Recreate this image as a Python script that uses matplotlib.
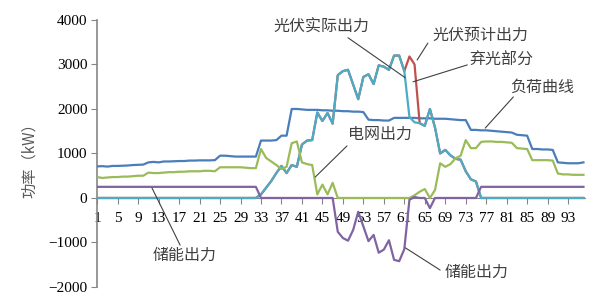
import matplotlib
matplotlib.use("Agg")
import matplotlib.pyplot as plt
import numpy as np

# 时段 1..96（15 min 一个点）
periods = np.arange(1, 97)

# 负荷曲线
load = [710, 715, 705, 720, 720, 725, 730, 740, 745, 750,
        800, 810, 800, 820, 820, 825, 830, 830, 840, 840,
        845, 845, 845, 850, 950, 950, 940, 930, 930, 930,
        930, 930, 1290, 1290, 1290, 1300, 1400, 1400, 2000, 2000,
        1990, 1980, 1980, 1980, 1970, 1970, 1960, 1960, 1950, 1950,
        1940, 1940, 1930, 1760, 1750, 1750, 1740, 1740, 1800, 1800,
        1800, 1800, 1800, 1790, 1790, 1790, 1780, 1780, 1780, 1770,
        1760, 1750, 1750, 1530, 1530, 1520, 1520, 1510, 1500, 1490,
        1480, 1470, 1420, 1410, 1400, 1100, 1100, 1090, 1090, 1080,
        800, 790, 780, 780, 780, 800]

# 光伏实际出力
pv_actual = [0] * 32 + [
    80, 230, 380, 560, 720, 560, 740, 700, 1200, 1290,
    1300, 1920, 1730, 1910, 1670, 2760, 2850, 2880, 2550, 2220,
    2720, 2780, 2560, 2980, 2950, 2880, 3200, 3200, 2850, 1820,
    1700, 1680, 1620, 2000, 1580, 1000, 1080, 960, 880, 860,
    600, 420, 370] + [0] * 21

# 光伏预计出力（仅 62~63 与实际不同）
pv_forecast = list(pv_actual)
pv_forecast[61] = 3180
pv_forecast[62] = 3000

# 电网出力
grid = [470, 450, 460, 470, 470, 480, 480, 490, 500, 500,
        570, 560, 560, 570, 580, 580, 590, 590, 600, 600,
        600, 610, 610, 600, 690, 690, 690, 690, 690, 680,
        670, 670, 1100, 900, 820, 740, 650, 700, 1230, 1270,
        800, 760, 740, 80, 300, 80, 340, 0, 0, 0,
        0, 0, 0, 0, 0, 0, 0, 0, 0, 0,
        0, 0, 60, 140, 200, 0, 180, 780, 700, 760,
        890, 950, 1300, 1120, 1120, 1260, 1270, 1270, 1260, 1260,
        1250, 1240, 1120, 1110, 1100, 850, 850, 850, 850, 840,
        550, 530, 530, 520, 520, 520]

# 储能出力
storage = [250] * 32 + [0] * 15 + [
    -760, -900, -960, -720, -310, -640, -970, -830, -1230, -1160,
    -950, -1390, -1420, -1150, -40, 20, 0, 0, -230, 0,
    0, 0, 0, 0, 0, 0, 0, 0] + [250] * 21

yticks = [-2000, -1000, 0, 1000, 2000, 3000, 4000]
xticks = list(range(1, 97, 4))

cjk = ['Noto Sans CJK SC', 'DejaVu Sans']
txt_color = '#404040'

fig = plt.figure(figsize=(6.0, 2.98), dpi=100)
ax = fig.add_axes([0.162, 0.037, 0.813, 0.896])

ax.plot(periods, load, color='#4A7EBB', lw=1.6, zorder=3)
ax.plot(periods, pv_forecast, color='#C0504D', lw=1.6, zorder=3)
ax.plot(periods, pv_actual, color='#4BACC6', lw=1.6, zorder=4)
ax.plot(periods, grid, color='#9BBB59', lw=1.6, zorder=4)
ax.plot(periods, storage, color='#8064A2', lw=1.6, zorder=5)

ax.set_xlim(1, 96.3)
ax.set_ylim(-2000, 4000)
ax.set_yticks(yticks)
ax.set_xticks(xticks)
ax.set_xticklabels([str(t) for t in xticks])

for s in ['top', 'right']:
    ax.spines[s].set_visible(False)
ax.spines['left'].set_color('#868686')
ax.spines['bottom'].set_color('#868686')
ax.spines['bottom'].set_position(('data', 0))
ax.spines['left'].set_linewidth(1.2)

ax.tick_params(axis='y', direction='out', length=4, color='#868686',
               labelsize=11, pad=3)
ax.tick_params(axis='x', direction='out', length=4, color='#868686',
               labelsize=11, pad=6)
for lab in ax.get_xticklabels() + ax.get_yticklabels():
    lab.set_family('Liberation Serif')

ax.set_ylabel('功率（kW）', family=cjk, fontsize=11, color='#595959')
ax.yaxis.set_label_coords(-0.122, 0.49)

# 标注：文字位置, 引线起点, 引线终点（数据坐标）
notes = [
    ('光伏实际出力', (44.9, 3840), (50.0, 3600), (61.2, 2700)),
    ('光伏预计出力', (75.8, 3660), (65.6, 3480), (63.5, 3100)),
    ('弃光部分', (79.9, 3100), (73.3, 2990), (62.7, 2610)),
    ('负荷曲线', (87.9, 2490), (82.3, 2270), (76.8, 1570)),
    ('电网出力', (56.3, 1420), (49.8, 1170), (43.6, 470)),
    ('储能出力', (18.0, -1280), (17.2, -1060), (11.7, 225)),
    ('储能出力', (75.2, -1660), (68.0, -1620), (61.2, -1120)),
]
for label, pos, start, end in notes:
    ax.annotate('', xy=end, xytext=start,
                arrowprops=dict(arrowstyle='-', color=txt_color, lw=0.8,
                                shrinkA=0, shrinkB=0), zorder=6)
    ax.text(pos[0], pos[1], label, family=cjk, fontsize=11.5,
            color=txt_color, ha='center', va='center', zorder=7)

fig.savefig('out.png', dpi=100)
